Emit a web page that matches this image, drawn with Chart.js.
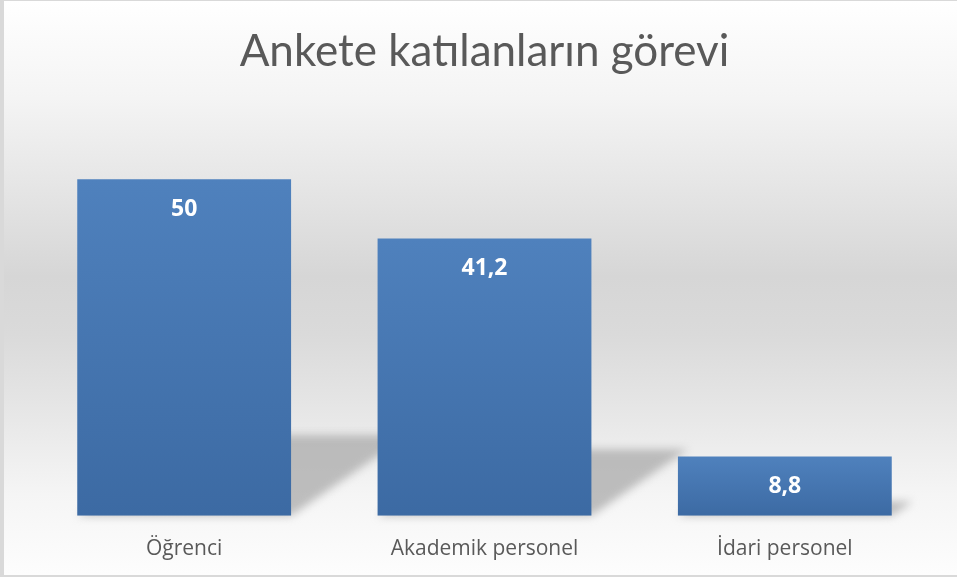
<!DOCTYPE html>
<html>
<head>
<meta charset="utf-8">
<script src="https://cdn.jsdelivr.net/npm/chart.js@4/dist/chart.umd.min.js"></script>
<style>
  html, body { margin: 0; padding: 0; }
  body { width: 957px; height: 577px; background: #d9d9d9; position: relative; overflow: hidden; }
  #wrap {
    position: absolute; left: 4px; top: 1px; width: 953px; height: 574px; overflow: hidden;
    background: linear-gradient(to bottom, #ffffff 0%, #f4f4f4 17%, #e3e3e3 35%, #d6d6d6 48%, #dadada 58%, #e5e5e5 70%, #f5f5f5 86%, #fdfdfd 100%);
  }
  canvas { display: block; }
</style>
</head>
<body>
<div id="wrap"><canvas id="c" width="953" height="574"></canvas></div>
<script>
const titleText = "Ankete katılanların görevi";
const categories = ["Öğrenci", "Akademik personel", "İdari personel"];
const values = [50, 41.2, 8.8];
const yTicks = [0, 60];

const shadowPlugin = {
  id: 'barShadow',
  beforeDatasetsDraw(chart) {
    const ctx = chart.ctx;
    const meta = chart.getDatasetMeta(0);
    ctx.save();
    ctx.filter = 'blur(4px)';
    ctx.fillStyle = 'rgba(170,170,170,0.75)';
    meta.data.forEach(el => {
      const p = el.getProps(['x', 'y', 'base', 'width'], true);
      const left = p.x - p.width / 2, right = p.x + p.width / 2;
      const h = p.base - p.y;
      const sh = h * 0.24, skew = sh * 1.45;
      ctx.beginPath();
      ctx.moveTo(left, p.base);
      ctx.lineTo(right, p.base);
      ctx.lineTo(right + skew, p.base - sh);
      ctx.lineTo(left + skew, p.base - sh);
      ctx.closePath();
      ctx.fill();
    });
    ctx.restore();
  }
};

const labelPlugin = {
  id: 'barLabels',
  afterDatasetsDraw(chart) {
    const ctx = chart.ctx;
    const meta = chart.getDatasetMeta(0);
    ctx.save();
    ctx.font = 'bold 23px "Open Sans"';
    ctx.fillStyle = '#ffffff';
    ctx.textAlign = 'center';
    ctx.textBaseline = 'middle';
    meta.data.forEach((el, i) => {
      const p = el.getProps(['x', 'y'], true);
      ctx.fillText(String(values[i]).replace('.', ','), p.x, p.y + 30);
    });
    ctx.restore();
  }
};

new Chart(document.getElementById('c'), {
  type: 'bar',
  data: {
    labels: categories,
    datasets: [{
      data: values,
      backgroundColor: (context) => {
        const chart = context.chart;
        const ys = chart.scales && chart.scales.y;
        if (!ys || context.raw === undefined) return '#4a7bb7';
        const top = ys.getPixelForValue(context.raw);
        const bottom = ys.getPixelForValue(0);
        if (!isFinite(top) || !isFinite(bottom) || top === bottom) return '#4a7bb7';
        const g = chart.ctx.createLinearGradient(0, top, 0, bottom);
        g.addColorStop(0, '#4f81bd');
        g.addColorStop(1, '#3c6aa3');
        return g;
      },
      borderWidth: 0,
      categoryPercentage: 1,
      barPercentage: 0.712
    }]
  },
  options: {
    responsive: false,
    animation: false,
    layout: { padding: { left: 30, right: 22, top: 0, bottom: -8 } },
    plugins: {
      legend: { display: false },
      tooltip: { enabled: false },
      title: {
        display: true,
        text: titleText,
        color: '#595959',
        font: { family: 'Lato', size: 44, weight: '400' },
        padding: { top: 24.6, bottom: 33.6 }
      }
    },
    scales: {
      x: {
        grid: { display: false, drawTicks: false },
        border: { display: false },
        ticks: { color: '#595959', font: { family: 'Open Sans', size: 21 }, padding: 21 }
      },
      y: {
        display: false,
        min: yTicks[0],
        max: yTicks[1]
      }
    }
  },
  plugins: [shadowPlugin, labelPlugin]
});
</script>
</body>
</html>
